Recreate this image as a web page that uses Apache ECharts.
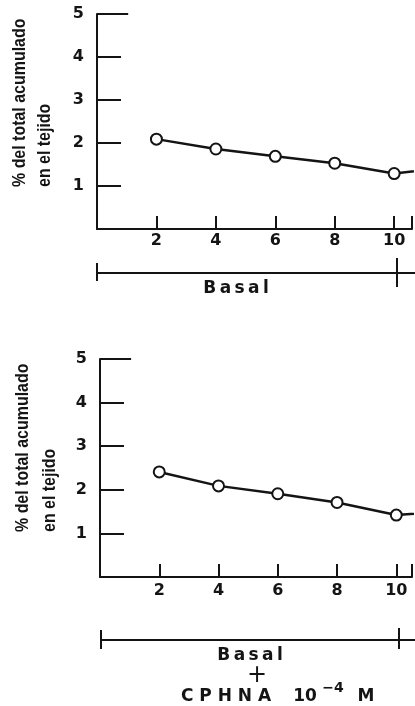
<!DOCTYPE html>
<html>
<head>
<meta charset="utf-8">
<script src="https://cdn.jsdelivr.net/npm/echarts@6/dist/echarts.min.js"></script>
<style>
  html, body { margin: 0; padding: 0; background: #fff; }
  #chart { width: 415px; height: 706px; }
</style>
</head>
<body>
<div id="chart"></div>
<script>
// tiempo (min) y % acumulado en el tejido
var tiempos = [2, 4, 6, 8, 10, 12];
var basal = [2.09, 1.86, 1.69, 1.53, 1.29, 1.45];
var basalCphna = [2.41, 2.09, 1.91, 1.71, 1.42, 1.53];
var xTicks = [2, 4, 6, 8, 10];
var yTicks = [1, 2, 3, 4, 5];
var yTitle1 = '% del total acumulado';
var yTitle2 = 'en el tejido';

var ink = '#141414';
var thin = '\u2009';
var tickFont = { color: ink, fontFamily: 'DejaVu Sans', fontWeight: 'bold', fontSize: 16 };

function pairs(vals) {
    return tiempos.map(function (t, i) { return [t, vals[i]]; });
}

function spaced(s) {
    return s.split('').join(thin);
}

function xAxisFor(grid, max, margin) {
    return {
        type: 'value', gridIndex: grid, min: 0, max: max, interval: 2,
        axisLine: { lineStyle: { color: ink, width: 2 } },
        axisTick: { inside: true, length: 13, lineStyle: { color: ink, width: 2 } },
        axisLabel: Object.assign({
            margin: margin,
            formatter: function (v) { return xTicks.indexOf(v) >= 0 ? String(v) : ''; }
        }, tickFont),
        splitLine: { show: false }
    };
}

function yAxisFor(grid) {
    return {
        type: 'value', gridIndex: grid, min: 0, max: 5, interval: 1,
        axisLine: { show: true, lineStyle: { color: ink, width: 2 } },
        axisTick: { inside: true, length: 24, lineStyle: { color: ink, width: 2 } },
        axisLabel: Object.assign({
            margin: 13,
            formatter: function (v) { return yTicks.indexOf(v) >= 0 ? String(v) : ''; }
        }, tickFont),
        splitLine: { show: false }
    };
}

function lineSeries(idx, vals) {
    return {
        type: 'line', xAxisIndex: idx, yAxisIndex: idx,
        data: pairs(vals),
        clip: true,
        symbol: 'circle', symbolSize: 11,
        itemStyle: { color: '#fff', borderColor: ink, borderWidth: 2 },
        lineStyle: { color: ink, width: 2.5 },
        markLine: {
            silent: true, symbol: 'none', label: { show: false },
            lineStyle: { color: ink, width: 2, type: 'solid' },
            data: [[{ coord: [0, 5] }, { coord: [1.05, 5] }]]
        },
        z: 3
    };
}

function vtext(x, y, str) {
    return {
        type: 'text', x: x, y: y, rotation: Math.PI / 2, scaleX: 0.84,
        style: {
            text: str, fill: ink, align: 'left', verticalAlign: 'middle',
            font: 'bold 19px "Liberation Sans", sans-serif'
        }
    };
}

function htext(x, y, str, size, weight) {
    return {
        type: 'text', x: x, y: y,
        style: {
            text: str, fill: ink, align: 'center', verticalAlign: 'middle',
            font: (weight || 'bold') + ' ' + (size || 17) + 'px "DejaVu Sans", sans-serif'
        }
    };
}

function seg(x1, y1, x2, y2) {
    return {
        type: 'line', shape: { x1: x1, y1: y1, x2: x2, y2: y2 },
        style: { stroke: ink, lineWidth: 2 }
    };
}

var chart = echarts.init(document.getElementById('chart'));
chart.setOption({
    backgroundColor: '#fff',
    animation: false,
    grid: [
        { left: 97, top: 14, width: 318, height: 215 },
        { left: 100, top: 359, width: 315, height: 218 }
    ],
    xAxis: [xAxisFor(0, 10.6, 4), xAxisFor(1, 10.53, 6)],
    yAxis: [yAxisFor(0), yAxisFor(1)],
    series: [lineSeries(0, basal), lineSeries(1, basalCphna)],
    graphic: [
        vtext(20, 187, yTitle1),
        vtext(45, 187, yTitle2),
        vtext(23, 532, yTitle1),
        vtext(50, 532, yTitle2),
        // corchete Basal
        seg(97, 273, 415, 273),
        seg(97, 263, 97, 281),
        seg(397, 258, 397, 287),
        htext(236, 289, spaced('Basal')),
        // corchete Basal + CPHNA
        seg(101, 640, 415, 640),
        seg(101, 630, 101, 649),
        seg(399, 628, 399, 649),
        htext(250, 656, spaced('Basal')),
        htext(257, 676, '+', 24, 'normal'),
        htext(226, 697, 'C P H N A'),
        htext(305, 697, '10'),
        htext(333, 688, '−4', 14),
        htext(366, 697, 'M')
    ]
});
</script>
</body>
</html>
